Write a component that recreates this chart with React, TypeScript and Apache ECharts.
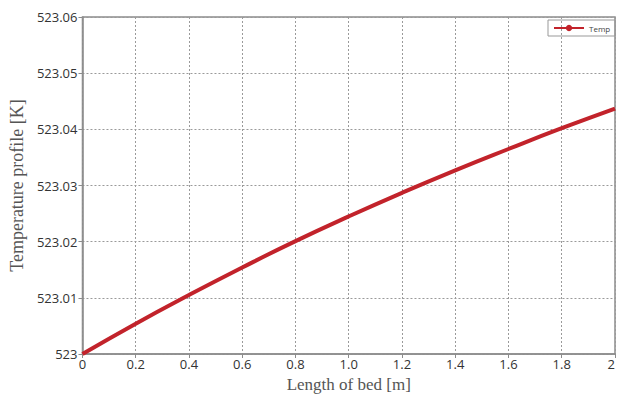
import React, { useEffect, useRef } from "react";
import * as echarts from "echarts";

const bedLength = [0, 0.2, 0.4, 0.6, 0.8, 1.0, 1.2, 1.4, 1.6, 1.8, 2.0];
const temperature = [523.0, 523.0054, 523.0105, 523.0154, 523.0201, 523.0245, 523.0287, 523.0327, 523.0365, 523.0402, 523.0437];
const seriesName = "Temp";
const xTitle = "Length of bed [m]";
const yTitle = "Temperature profile [K]";

export default function App() {
  const ref = useRef<HTMLDivElement>(null);
  useEffect(() => {
    if (!ref.current) return;
    const chart = echarts.init(ref.current, undefined, { renderer: "svg" });
    chart.setOption({
      animation: false,
      backgroundColor: "#ffffff",
      grid: { left: 82, top: 17, width: 535, height: 337, show: true, borderColor: "#8c8c8c", borderWidth: 1.5 },
      legend: {
        left: 548,
        top: 20,
        data: [seriesName],
        borderColor: "#999",
        borderWidth: 1,
        borderRadius: 0,
        padding: [4, 5, 4, 5],
        itemWidth: 30,
        itemHeight: 8,
        itemGap: 4,
        textStyle: { fontSize: 8, color: "#444", fontFamily: "Open Sans" },
      },
      xAxis: {
        type: "value",
        min: 0,
        max: 2,
        interval: 0.2,
        name: xTitle,
        nameLocation: "middle",
        nameGap: 22,
        nameTextStyle: { fontFamily: "Liberation Serif", fontSize: 17, color: "#555" },
        axisLine: { show: true, lineStyle: { color: "#8c8c8c", width: 1.5 } },
        axisTick: { show: true, length: 4, lineStyle: { color: "#8c8c8c" } },
        axisLabel: {
          fontFamily: "Open Sans",
          fontSize: 13,
          color: "#333",
          margin: 3,
          alignMaxLabel: "right",
          formatter: (v: number) => (Math.abs(v) < 1e-9 ? "0" : Math.abs(v - 2) < 1e-9 ? "2" : v.toFixed(1)),
        },
        splitLine: { show: true, lineStyle: { color: "#9a9a9a", type: [2, 2], width: 1 } },
      },
      yAxis: {
        type: "value",
        min: 523,
        max: 523.06,
        interval: 0.01,
        name: yTitle,
        nameLocation: "middle",
        nameGap: 56,
        nameTextStyle: { fontFamily: "Liberation Serif", fontSize: 18, color: "#555" },
        axisLine: { show: true, lineStyle: { color: "#8c8c8c", width: 1.5 } },
        axisTick: { show: true, length: 4, lineStyle: { color: "#8c8c8c" } },
        axisLabel: {
          fontFamily: "Open Sans",
          fontSize: 13,
          color: "#333",
          margin: 5,
          formatter: (v: number) => (Math.abs(v - 523) < 1e-9 ? "523" : v.toFixed(2)),
        },
        splitLine: { show: true, lineStyle: { color: "#9a9a9a", type: [2, 2], width: 1 } },
      },
      series: [
        {
          name: seriesName,
          type: "line",
          data: bedLength.map((x, i) => [x, temperature[i]]),
          smooth: true,
          symbol: "circle",
          symbolSize: 6,
          showSymbol: false,
          color: "#c2232b",
          lineStyle: { color: "#c2232b", width: 4 },
        },
      ],
    });
    return () => chart.dispose();
  }, []);
  return (
    <div style={{ position: "fixed", left: 0, top: 0, width: 618, height: 398, overflow: "hidden", background: "#fff" }}>
      <div ref={ref} style={{ width: 618, height: 398 }} />
    </div>
  );
}
